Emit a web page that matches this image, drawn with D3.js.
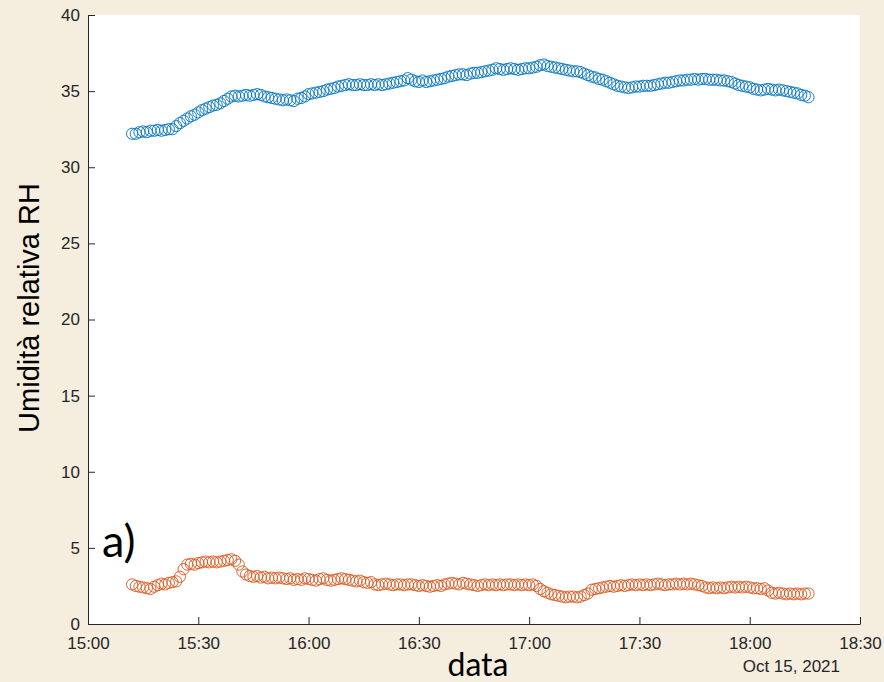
<!DOCTYPE html>
<html>
<head>
<meta charset="utf-8">
<script src="https://cdn.jsdelivr.net/npm/d3@7"></script>
<style>
  html, body { margin: 0; padding: 0; background: #f5eedf; }
  svg { display: block; }
</style>
</head>
<body>
<svg id="chart" width="884" height="682"></svg>
<script>
const width = 884;
const height = 682;

// one sample per minute, starting 15:12 on Oct 15, 2021
const startTime = new Date(2021, 9, 15, 15, 12);

// upper series (blue)
const rhBlue = [
    32.2, 32.2, 32.3, 32.35, 32.3, 32.4, 32.4, 32.45, 32.4, 32.45,
    32.5, 32.5, 32.7, 32.9, 33.05, 33.2, 33.35, 33.45, 33.6, 33.75,
    33.85, 33.95, 34.05, 34.1, 34.2, 34.35, 34.5, 34.65, 34.7, 34.65,
    34.7, 34.75, 34.7, 34.75, 34.8, 34.75, 34.65, 34.6, 34.55, 34.5,
    34.45, 34.4, 34.45, 34.4, 34.35, 34.5, 34.55, 34.65, 34.8, 34.85,
    34.9, 34.95, 35.0, 35.1, 35.15, 35.2, 35.3, 35.35, 35.4, 35.45,
    35.4, 35.4, 35.45, 35.4, 35.4, 35.45, 35.4, 35.45, 35.4, 35.45,
    35.5, 35.55, 35.6, 35.65, 35.7, 35.85, 35.75, 35.65, 35.6, 35.7,
    35.6, 35.65, 35.7, 35.75, 35.8, 35.85, 35.95, 36.0, 36.05, 36.1,
    36.1, 36.05, 36.15, 36.2, 36.2, 36.25, 36.3, 36.35, 36.4, 36.5,
    36.45, 36.4, 36.45, 36.5, 36.45, 36.4, 36.45, 36.5, 36.5, 36.55,
    36.6, 36.7, 36.75, 36.65, 36.6, 36.55, 36.5, 36.45, 36.4, 36.35,
    36.3, 36.3, 36.25, 36.15, 36.05, 35.95, 35.9, 35.8, 35.75, 35.65,
    35.55, 35.45, 35.35, 35.3, 35.25, 35.2, 35.25, 35.3, 35.3, 35.35,
    35.35, 35.35, 35.4, 35.45, 35.5, 35.55, 35.55, 35.6, 35.65, 35.7,
    35.7, 35.75, 35.75, 35.8, 35.75, 35.8, 35.8, 35.75, 35.75, 35.75,
    35.7, 35.7, 35.65, 35.6, 35.5, 35.4, 35.35, 35.3, 35.25, 35.15,
    35.1, 35.05, 35.1, 35.15, 35.1, 35.05, 35.1, 35.05, 35.0, 34.95,
    34.9, 34.85, 34.75, 34.7, 34.6
];

// lower series (orange)
const rhOrange = [
    2.6, 2.5, 2.45, 2.4, 2.35, 2.3, 2.45, 2.55, 2.65, 2.6,
    2.7, 2.75, 2.8, 3.1, 3.6, 3.9, 3.95, 3.9, 4.0, 4.05,
    4.1, 4.05, 4.1, 4.05, 4.1, 4.15, 4.2, 4.25, 4.15, 3.9,
    3.45, 3.25, 3.15, 3.1, 3.15, 3.05, 3.1, 3.0, 3.05, 3.0,
    3.05, 3.0, 2.95, 3.0, 2.9, 2.95, 2.9, 3.0, 2.95, 2.9,
    2.85, 2.95, 3.0, 2.9, 2.85, 2.9, 2.95, 3.0, 2.95, 2.9,
    2.85, 2.8, 2.85, 2.75, 2.7, 2.75, 2.6, 2.55, 2.6, 2.65,
    2.6, 2.55, 2.6, 2.6, 2.55, 2.6, 2.6, 2.55, 2.5, 2.55,
    2.5, 2.45, 2.5, 2.55, 2.5, 2.6, 2.65, 2.7, 2.65, 2.6,
    2.7, 2.65, 2.6, 2.55, 2.5, 2.55, 2.6, 2.55, 2.6, 2.55,
    2.6, 2.55, 2.6, 2.6, 2.55, 2.6, 2.55, 2.6, 2.55, 2.6,
    2.5, 2.3, 2.15, 2.05, 1.95, 1.9, 1.85, 1.8, 1.75, 1.8,
    1.8, 1.75, 1.8, 1.9, 2.0, 2.25, 2.3, 2.35, 2.4, 2.45,
    2.5, 2.45, 2.5, 2.55, 2.5, 2.55, 2.6, 2.55, 2.6, 2.55,
    2.6, 2.55, 2.6, 2.65, 2.6, 2.55, 2.6, 2.6, 2.65, 2.6,
    2.65, 2.6, 2.65, 2.6, 2.55, 2.5, 2.4, 2.35, 2.4, 2.35,
    2.4, 2.35, 2.4, 2.45, 2.4, 2.45, 2.4, 2.45, 2.4, 2.35,
    2.35, 2.3, 2.35, 2.2, 2.05, 2.0, 2.05, 2.0, 1.95, 2.0,
    1.95, 2.0, 1.95, 2.0, 2.0
];

const yTicks = [0, 5, 10, 15, 20, 25, 30, 35, 40];
const series = [
    { name: "blue", values: rhBlue, color: "#0072BD" },
    { name: "orange", values: rhOrange, color: "#D95319" }
];

const margin = { top: 15, right: 24, bottom: 58, left: 88 };

const svg = d3.select("#chart");

const x = d3.scaleTime()
    .domain([new Date(2021, 9, 15, 15, 0), new Date(2021, 9, 15, 18, 30)])
    .range([margin.left, width - margin.right]);

const y = d3.scaleLinear()
    .domain([0, 40])
    .range([height - margin.bottom, margin.top]);

// plot area
svg.append("rect")
    .attr("x", margin.left)
    .attr("y", margin.top)
    .attr("width", width - margin.left - margin.right)
    .attr("height", height - margin.top - margin.bottom)
    .attr("fill", "white");

// markers
series.forEach(s => {
    svg.append("g")
        .attr("fill", "none")
        .attr("stroke", s.color)
        .attr("stroke-width", 0.9)
        .selectAll("circle")
        .data(s.values)
        .join("circle")
        .attr("cx", (d, i) => x(d3.timeMinute.offset(startTime, i)))
        .attr("cy", d => y(d))
        .attr("r", 5.6);
});

// axes
const xAxis = d3.axisBottom(x)
    .ticks(d3.timeMinute.every(30))
    .tickFormat(d3.timeFormat("%H:%M"))
    .tickSizeInner(-7)
    .tickSizeOuter(0)
    .tickPadding(13);

const yAxis = d3.axisLeft(y)
    .tickValues(yTicks)
    .tickSizeInner(-7)
    .tickSizeOuter(0)
    .tickPadding(8);

function styleAxis(g) {
    g.select(".domain").attr("stroke", "#262626");
    g.selectAll(".tick line").attr("stroke", "#262626");
    g.selectAll(".tick text")
        .attr("fill", "#262626")
        .style("font-family", "'Liberation Sans', Arial, sans-serif")
        .style("font-size", "17px");
}

svg.append("g")
    .attr("transform", `translate(0,${height - margin.bottom})`)
    .call(xAxis)
    .call(styleAxis);

svg.append("g")
    .attr("transform", `translate(${margin.left},0)`)
    .call(yAxis)
    .call(styleAxis);

// date label under axis
svg.append("text")
    .attr("x", 840)
    .attr("y", 672)
    .attr("text-anchor", "end")
    .attr("fill", "#262626")
    .style("font-family", "'Liberation Sans', Arial, sans-serif")
    .style("font-size", "17px")
    .text("Oct 15, 2021");

// axis titles
svg.append("text")
    .attr("x", 478)
    .attr("y", 676)
    .attr("text-anchor", "middle")
    .attr("fill", "#000")
    .style("font-family", "Lato, sans-serif")
    .style("font-size", "32px")
    .text("data");

svg.append("text")
    .attr("transform", "translate(39,308) rotate(-90)")
    .attr("text-anchor", "middle")
    .attr("fill", "#000")
    .style("font-family", "'Liberation Sans', Arial, sans-serif")
    .style("font-size", "29px")
    .text("Umidità relativa RH");

// panel label
svg.append("text")
    .attr("x", 102)
    .attr("y", 557)
    .attr("fill", "#000")
    .style("font-family", "Lato, sans-serif")
    .style("font-size", "45px")
    .text("a)");
</script>
</body>
</html>
